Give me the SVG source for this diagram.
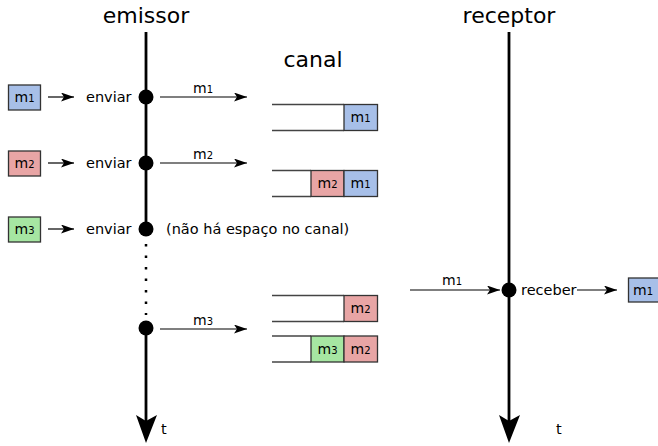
<svg xmlns="http://www.w3.org/2000/svg" width="658" height="446" viewBox="0 0 658 446">
<style>
text{font-family:"DejaVu Sans",sans-serif;fill:#000}
.title{font-size:22px}
.lbl{font-size:14.5px}
.m{font-size:14px}
.d{font-size:10px}
.cell{stroke:#333;stroke-width:1.3}
.blue{fill:#a7bfe8}
.red{fill:#e8a5a5}
.green{fill:#a6e6a2}
.chan{stroke:#444;stroke-width:1.5;fill:none}
.arr{stroke:#000;stroke-width:1.2;fill:none;marker-end:url(#ah)}
.life{stroke:#000;stroke-width:2.8;fill:none}
</style>
<defs>
<marker id="ah" markerUnits="userSpaceOnUse" markerWidth="14" markerHeight="10" refX="13" refY="4.5" orient="auto">
<path d="M0,0 L13,4.5 L0,9 L3,4.5 z" fill="#000"/>
</marker>
</defs>

<g id="emissor">
<text class="title" x="146" y="23" text-anchor="middle">emissor</text>
<line class="life" x1="146" y1="32" x2="146" y2="229"/>
<line x1="146" y1="244" x2="146" y2="315" stroke="#000" stroke-width="2.5" stroke-dasharray="2.5 9"/>
<line class="life" x1="146" y1="328" x2="146" y2="424"/>
<path d="M146,443 L136,415 L146,421 L157,415 z" fill="#000"/>
<text class="lbl" x="161" y="434">t</text>
<circle cx="146" cy="97" r="7.5"/>
<circle cx="146" cy="163" r="7.5"/>
<circle cx="146" cy="229" r="7.5"/>
<circle cx="146" cy="328" r="7.5"/>
</g>

<g id="receptor">
<text class="title" x="509" y="23" text-anchor="middle">receptor</text>
<line class="life" x1="509" y1="32" x2="509" y2="424"/>
<path d="M509,443 L499,415 L509,421 L520,415 z" fill="#000"/>
<text class="lbl" x="556" y="434">t</text>
<circle cx="509" cy="290" r="7.5"/>
<text class="lbl" x="521" y="295">receber</text>
</g>

<g id="canal-title">
<text class="title" x="313" y="67" text-anchor="middle">canal</text>
</g>

<g id="msg-m1">
<rect class="cell blue" x="8.5" y="85" width="32" height="25"/>
<text x="24.5" y="102" text-anchor="middle"><tspan class="m">m</tspan><tspan class="d">1</tspan></text>
<text class="lbl" x="86" y="102">enviar</text>
</g>
<g id="msg-m2">
<rect class="cell red" x="8.5" y="151" width="32" height="25"/>
<text x="24.5" y="168" text-anchor="middle"><tspan class="m">m</tspan><tspan class="d">2</tspan></text>
<text class="lbl" x="86" y="168">enviar</text>
</g>
<g id="msg-m3">
<rect class="cell green" x="8.5" y="217" width="32" height="25"/>
<text x="24.5" y="234" text-anchor="middle"><tspan class="m">m</tspan><tspan class="d">3</tspan></text>
<text class="lbl" x="86" y="234">enviar</text>
<text class="lbl" x="166" y="234">(não há espaço no canal)</text>
</g>

<g id="canal-1">
<line class="chan" x1="272" y1="104.5" x2="344" y2="104.5"/>
<line class="chan" x1="272" y1="130.5" x2="344" y2="130.5"/>
<rect class="cell blue" x="344" y="104.5" width="33.5" height="26"/>
<text x="360.5" y="122" text-anchor="middle"><tspan class="m">m</tspan><tspan class="d">1</tspan></text>
</g>
<g id="canal-2">
<line class="chan" x1="272" y1="170.5" x2="311" y2="170.5"/>
<line class="chan" x1="272" y1="196.5" x2="311" y2="196.5"/>
<rect class="cell red" x="311" y="170.5" width="33" height="26"/>
<text x="327.5" y="188" text-anchor="middle"><tspan class="m">m</tspan><tspan class="d">2</tspan></text>
<rect class="cell blue" x="344" y="170.5" width="33.5" height="26"/>
<text x="360.5" y="188" text-anchor="middle"><tspan class="m">m</tspan><tspan class="d">1</tspan></text>
</g>
<g id="canal-3">
<line class="chan" x1="272" y1="295.5" x2="344" y2="295.5"/>
<line class="chan" x1="272" y1="321.5" x2="344" y2="321.5"/>
<rect class="cell red" x="344" y="295.5" width="33.5" height="26"/>
<text x="360.5" y="313" text-anchor="middle"><tspan class="m">m</tspan><tspan class="d">2</tspan></text>
</g>
<g id="canal-4">
<line class="chan" x1="272" y1="336" x2="311" y2="336"/>
<line class="chan" x1="272" y1="362" x2="311" y2="362"/>
<rect class="cell green" x="311" y="336" width="33" height="26"/>
<text x="327.5" y="353.5" text-anchor="middle"><tspan class="m">m</tspan><tspan class="d">3</tspan></text>
<rect class="cell red" x="344" y="336" width="33.5" height="26"/>
<text x="360.5" y="353.5" text-anchor="middle"><tspan class="m">m</tspan><tspan class="d">2</tspan></text>
</g>

<g id="msg-recv">
<rect class="cell blue" x="628.5" y="278" width="32" height="24"/>
<text x="633" y="295"><tspan class="m">m</tspan><tspan class="d">1</tspan></text>
</g>

<g id="connectors">
<line class="arr" x1="48" y1="97" x2="74" y2="97"/>
<line class="arr" x1="48" y1="163" x2="74" y2="163"/>
<line class="arr" x1="48" y1="229" x2="74" y2="229"/>
<line class="arr" x1="160" y1="97" x2="247" y2="97"/>
<line class="arr" x1="160" y1="163" x2="247" y2="163"/>
<line class="arr" x1="160" y1="329" x2="247" y2="329"/>
<line class="arr" x1="410" y1="290" x2="500" y2="290"/>
<line class="arr" x1="577" y1="290" x2="617" y2="290"/>
<text x="203" y="93" text-anchor="middle"><tspan class="m">m</tspan><tspan class="d">1</tspan></text>
<text x="203" y="159" text-anchor="middle"><tspan class="m">m</tspan><tspan class="d">2</tspan></text>
<text x="203" y="325" text-anchor="middle"><tspan class="m">m</tspan><tspan class="d">3</tspan></text>
<text x="452" y="285" text-anchor="middle"><tspan class="m">m</tspan><tspan class="d">1</tspan></text>
</g>
</svg>
